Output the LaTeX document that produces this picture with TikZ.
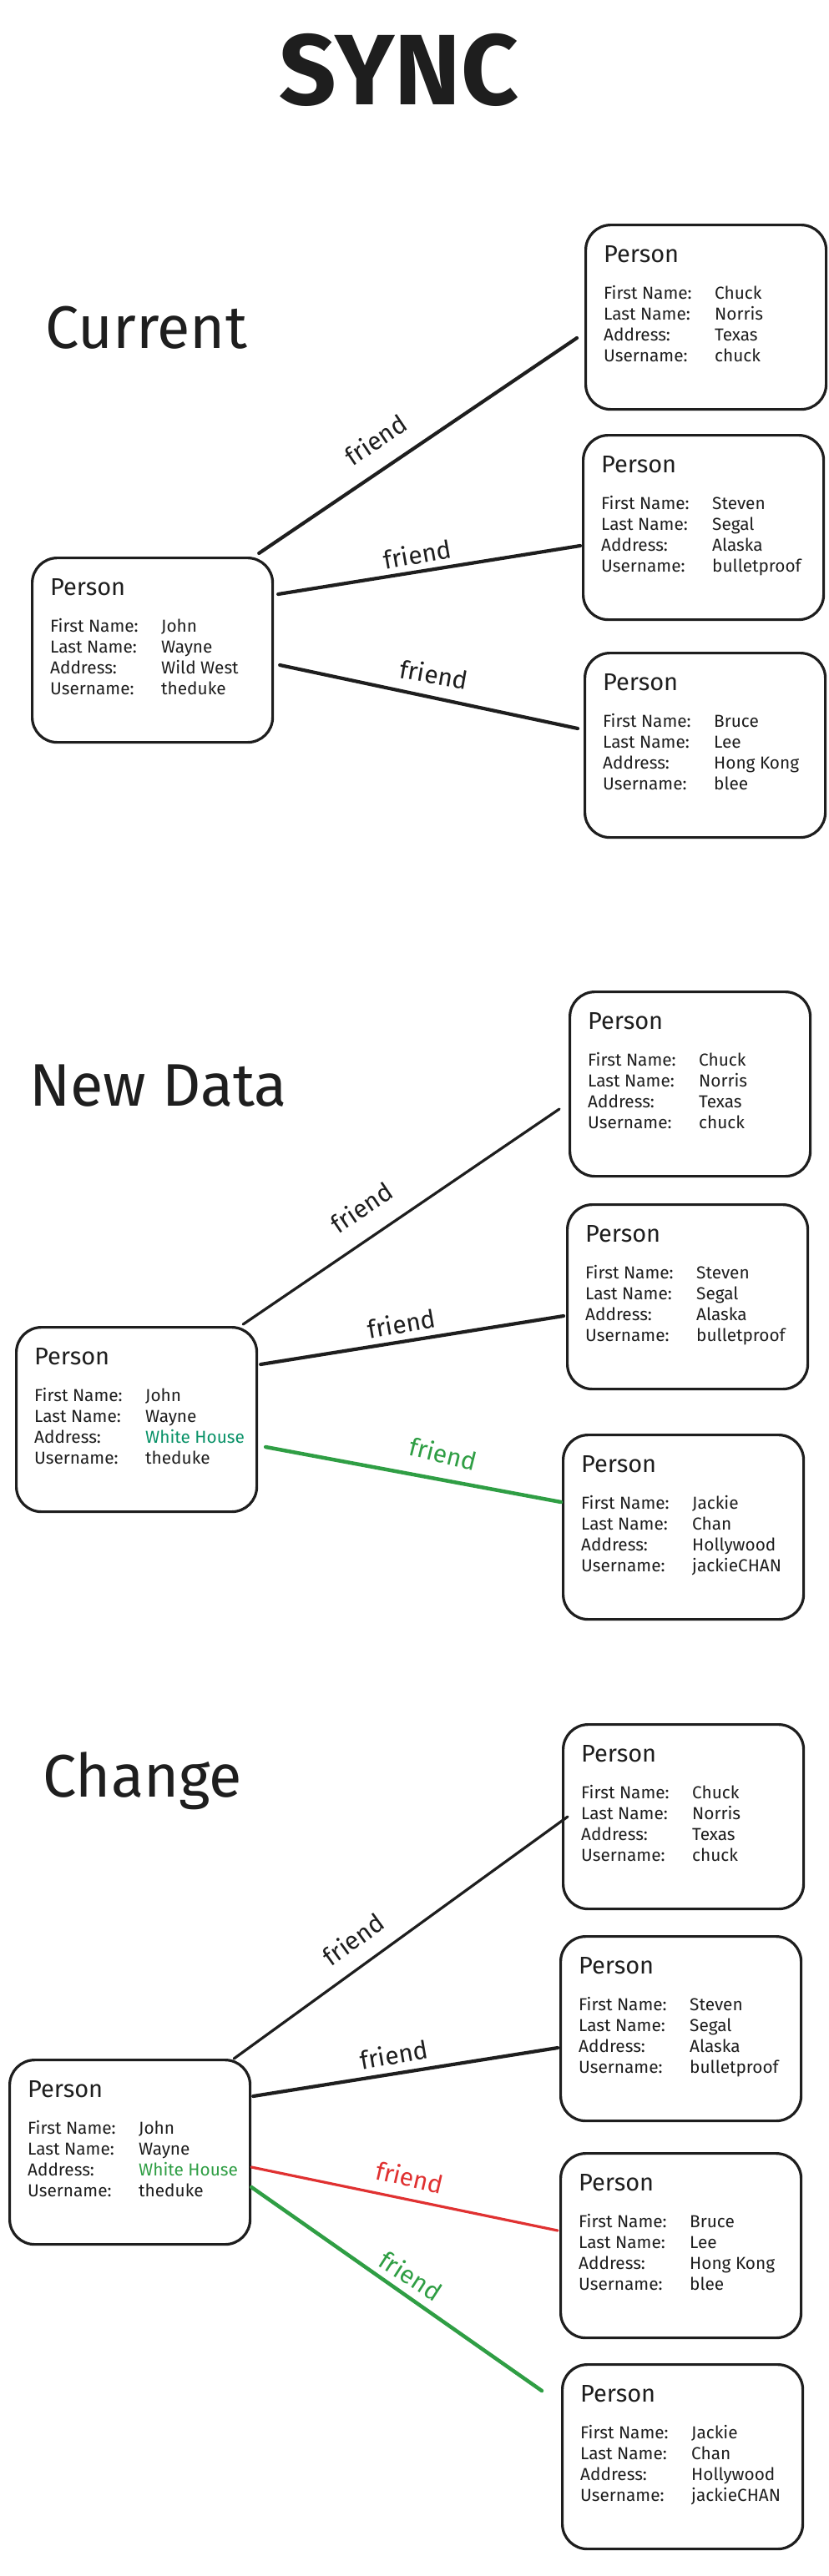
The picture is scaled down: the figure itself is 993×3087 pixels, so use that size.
\documentclass[tikz,border=0pt]{standalone}
\usepackage{fontspec}
\setmainfont{Fira Sans}
\usetikzlibrary{calc}
\definecolor{ink}{HTML}{1E1E1E}
\definecolor{grn}{HTML}{2F9E44}
\definecolor{teal}{HTML}{099268}
\definecolor{rd}{HTML}{E03131}
\tikzset{
  card/.style={draw=ink, line width=3.2pt, rounded corners=30pt, minimum width=288pt, minimum height=221pt, anchor=north west, inner sep=0pt},
  txt/.style={inner sep=0pt, anchor=base west, text=ink, font=\fontsize{20.8}{24}\selectfont},
  ptitle/.style={inner sep=0pt, anchor=base west, text=ink, font=\fontsize{29}{32}\selectfont},
  head/.style={inner sep=0pt, anchor=base west, text=ink, font=\fontsize{72}{80}\selectfont},
  link/.style={draw=ink, line width=4.2pt, line cap=round},
  flabel/.style={inner sep=0pt, text=ink, font=\fontsize{30}{32}\selectfont},
}
\newcommand\personcard[8]{%
  \node[card] (#1) at (#2,#3) {};
  \node[ptitle] (#1-p) at ([shift={(23,46)}]#1.north west) {Person};
  \node[txt] (#1-a) at ([shift={(23,90)}]#1.north west) {First Name:};
  \node[txt] (#1-b) at ([shift={(23,115)}]#1.north west) {Last Name:};
  \node[txt] (#1-c) at ([shift={(23,140)}]#1.north west) {Address:};
  \node[txt] (#1-d) at ([shift={(23,165)}]#1.north west) {Username:};
  \node[txt] (#1-av) at ([shift={(156,90)}]#1.north west) {#4};
  \node[txt] (#1-bv) at ([shift={(156,115)}]#1.north west) {#5};
  \node[txt, text=#8] (#1-cv) at ([shift={(156,140)}]#1.north west) {#6};
  \node[txt] (#1-dv) at ([shift={(156,165)}]#1.north west) {#7};
}
\begin{document}
\begin{tikzpicture}[x=1pt, y=-1pt]
\fill[white] (0,0) rectangle (993,3087);
\useasboundingbox (0,0) rectangle (993,3087);

% titles
\node[inner sep=0pt, anchor=base, text=ink, font=\fontsize{120}{124}\selectfont\bfseries] (title) at (478,125) {SYNC};
\node[head] (hcur) at (54,417) {Current};
\node[head] (hnew) at (35,1325) {New Data};
\node[head] (hchg) at (51,2153) {Change};

% ---------- Current ----------
\personcard{c1}{700}{268}{Chuck}{Norris}{Texas}{chuck}{ink}
\personcard{c2}{697}{520}{Steven}{Segal}{Alaska}{bulletproof}{ink}
\personcard{c3}{699}{781}{Bruce}{Lee}{Hong Kong}{blee}{ink}
\personcard{j1}{37}{667}{John}{Wayne}{Wild West}{theduke}{ink}

\draw[link] ([shift={(-18,-4)}]j1.north east) -- ([shift={(-9,137)}]c1.north west);
\draw[link] ([shift={(5,45)}]j1.north east) -- ([shift={(-2,134)}]c2.north west);
\draw[link] ([shift={(7,130)}]j1.north east) -- ([shift={(-7,92)}]c3.north west);
\node[flabel, rotate=34] (fc1) at (450,527) {friend};
\node[flabel, rotate=10] (fc2) at (500,664) {friend};
\node[flabel, rotate=-10] (fc3) at (520,808) {friend};

% ---------- New Data ----------
\personcard{n1}{681}{1187}{Chuck}{Norris}{Texas}{chuck}{ink}
\personcard{n2}{678}{1442}{Steven}{Segal}{Alaska}{bulletproof}{ink}
\personcard{n3}{673}{1718}{Jackie}{Chan}{Hollywood}{jackieCHAN}{ink}
\personcard{j2}{18}{1589}{John}{Wayne}{White House}{theduke}{teal}

\draw[link, line width=3.2pt] ([shift={(-18,-2)}]j2.north east) -- ([shift={(-11,142)}]n1.north west);
\draw[link] ([shift={(3,46)}]j2.north east) -- ([shift={(-3,135)}]n2.north west);
\draw[link, draw=grn, line width=4.5pt] ([shift={(9,145)}]j2.north east) -- ([shift={(-1,82)}]n3.north west);
\node[flabel, rotate=34] (fn1) at (433,1447) {friend};
\node[flabel, rotate=10] (fn2) at (481,1586) {friend};
\node[flabel, rotate=-14, text=grn] (fn3) at (531,1742) {friend};

% ---------- Change ----------
\personcard{g1}{673}{2065}{Chuck}{Norris}{Texas}{chuck}{ink}
\personcard{g2}{670}{2319}{Steven}{Segal}{Alaska}{bulletproof}{ink}
\personcard{g3}{670}{2579}{Bruce}{Lee}{Hong Kong}{blee}{ink}
\personcard{g4}{672}{2832}{Jackie}{Chan}{Hollywood}{jackieCHAN}{ink}
\personcard{j3}{10}{2467}{John}{Wayne}{White House}{theduke}{grn}

\coordinate (gend) at ([shift={(-23,33)}]g4.north west);
\draw[link, line width=3.2pt] ([shift={(-21,0)}]j3.north east) -- ([shift={(7,112)}]g1.north west);
\draw[link] ([shift={(2,45)}]j3.north east) -- ([shift={(-2,135)}]g2.north west);
\draw[link, draw=rd, line width=3.2pt] ([shift={(0,130)}]j3.north east) -- ([shift={(-2,94)}]g3.north west);
\draw[link, draw=grn, line width=4.5pt] ([shift={(0,154)}]j3.north east) -- (gend);
\node[flabel, rotate=36] (fg1) at (423,2324) {friend};
\node[flabel, rotate=10] (fg2) at (472,2462) {friend};
\node[flabel, rotate=-13, text=rd] (fg3) at (491,2609) {friend};
\node[flabel, rotate=-33, text=grn] (fg4) at (492,2727) {friend};
\end{tikzpicture}
\end{document}
